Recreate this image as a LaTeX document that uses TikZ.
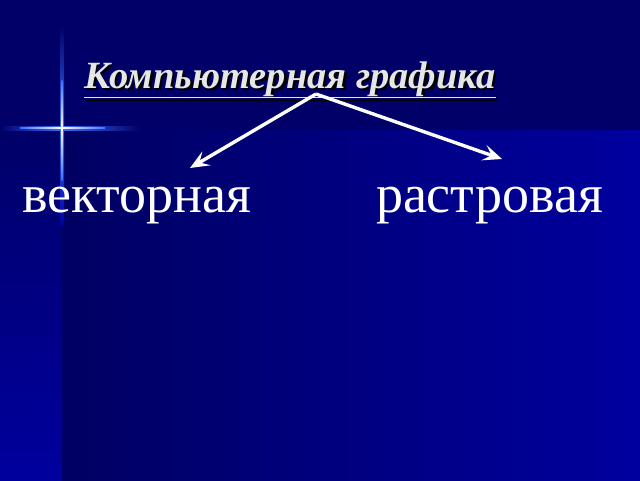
\documentclass[tikz,border=0pt]{standalone}
\usepackage{fontspec}
\setmainfont{Liberation Serif}
\usetikzlibrary{arrows.meta}
\definecolor{navydark}{HTML}{000062}
\definecolor{navytop}{HTML}{000068}
\definecolor{navybright}{HTML}{00009E}
\definecolor{glow}{HTML}{3C6CFF}
\definecolor{titlegray}{HTML}{E6E6E6}
\begin{document}
\begin{tikzpicture}[x=1pt,y=-1pt,
    word/.style={text=white,inner sep=0pt,font=\fontsize{54}{60}\selectfont},
    heading/.style={anchor=base,inner sep=0pt,font=\fontsize{38.5}{46}\selectfont\bfseries\itshape},
    arr/.style={white,line width=3.4pt,-{Stealth[length=19pt,width=16pt,inset=8pt]}}]
    \useasboundingbox (0,0) rectangle (640,480);
    % Background
    \fill[navytop] (0,0) rectangle (640,130);
    \shade[left color=navydark,right color=navybright] (62,130) rectangle (640,480);
    \shade[top color=navytop,bottom color=navybright] (0,130) rectangle (62,480);
    % Flare
    \shade[left color=navytop,right color=glow] (0,126) rectangle (62,130);
    \shade[left color=glow,right color=navytop] (62,126) rectangle (140,130);
    \shade[top color=navytop,bottom color=glow] (60,25) rectangle (64,128);
    \shade[top color=glow,bottom color=navybright] (60,128) rectangle (64,225);
    \shade[left color=glow,right color=white] (20,127.4) rectangle (62,128.6);
    \shade[left color=white,right color=glow] (62,127.4) rectangle (105,128.6);
    \shade[top color=glow,bottom color=white] (61.4,80) rectangle (62.6,128);
    \shade[top color=white,bottom color=glow] (61.4,128) rectangle (62.6,180);
    \fill[white] (62,128) circle (1.5pt);
    % Title with shadow
    \node[heading,text=black] at (292.5,90.5) {\underline{Компьютерная графика}};
    \node (title)[heading,text=titlegray] at (290,88) {\underline{Компьютерная графика}};
    % Branches
    \node (vect)[word,anchor=base west] at (22,212) {векторная};
    \node (rast)[word,anchor=base east] at (603,212) {растровая};
    \coordinate (fork) at (316,94);
    \coordinate (vtip) at (190,168);
    \coordinate (rtip) at (502,159);
    \draw[arr] (fork) -- (vtip);
    \draw[arr] (fork) -- (rtip);
\end{tikzpicture}
\end{document}
